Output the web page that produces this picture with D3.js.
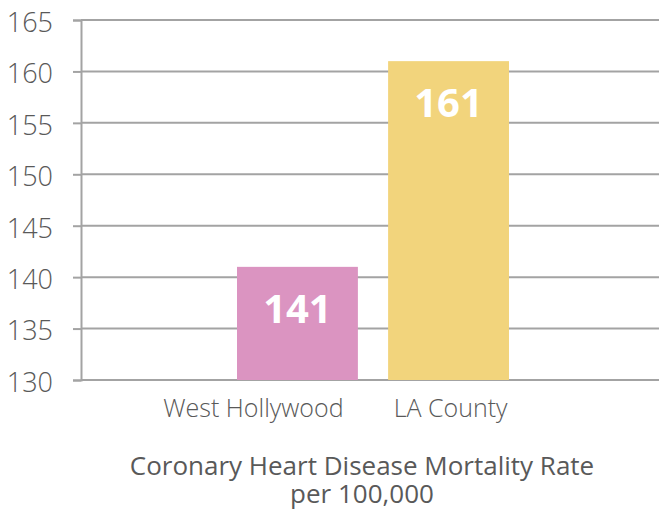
<!DOCTYPE html>
<html>

<head>
  <title>Coronary Heart Disease Mortality Rate</title>
  <script src="https://cdn.jsdelivr.net/npm/d3@7"></script>
  <style>
    body { margin: 0; background: #fff; }
    text { font-family: "Open Sans", "Noto Sans", sans-serif; }
  </style>
</head>

<body>
  <svg width="659" height="512" id="mainsvg"></svg>
  <script>
    // data
    const categories = ['West Hollywood', 'LA County'];
    const rates = [141, 161];
    const barColors = ['#db94c1', '#f2d47c'];
    const yTicks = [130, 135, 140, 145, 150, 155, 160, 165];
    const titleLines = ['Coronary Heart Disease Mortality Rate', 'per 100,000'];

    const svg = d3.select('#mainsvg');
    const width = +svg.attr('width');
    const axisX = 81;
    const plotTop = 20, plotBottom = 380;
    const gridColor = '#a3a3a3';
    const textColor = '#595959';

    const yScale = d3.scaleLinear().domain([130, 165]).range([plotBottom, plotTop]);
    const xScale = d3.scaleBand().domain(categories).range([237, 509]).paddingInner(0.2);

    // gridlines
    svg.append('g').selectAll('line')
      .data(yTicks)
      .enter().append('line')
      .attr('x1', axisX).attr('x2', width)
      .attr('y1', d => yScale(d)).attr('y2', d => yScale(d))
      .attr('stroke', gridColor).attr('stroke-width', 2);

    // y axis
    const yAxis = d3.axisLeft(yScale).tickValues(yTicks).tickSize(8).tickPadding(20);
    const yAxisGroup = svg.append('g')
      .attr('transform', `translate(${axisX}, 0)`)
      .call(yAxis);
    yAxisGroup.select('.domain').attr('stroke', gridColor).attr('stroke-width', 2);
    yAxisGroup.selectAll('.tick line').attr('stroke', gridColor).attr('stroke-width', 2);
    yAxisGroup.selectAll('.tick text')
      .attr('font-size', 27).attr('font-weight', 300)
      .attr('fill', textColor).attr('dy', '0.42em')
      .style('font-family', '"Open Sans", sans-serif');

    const data = categories.map((c, i) => ({ cat: c, value: rates[i], color: barColors[i] }));

    // bars
    svg.append('g').selectAll('rect')
      .data(data)
      .enter().append('rect')
      .attr('x', d => xScale(d.cat))
      .attr('y', d => yScale(d.value))
      .attr('width', xScale.bandwidth())
      .attr('height', d => yScale(130) - yScale(d.value))
      .attr('fill', d => d.color);

    // value labels
    svg.append('g').selectAll('text')
      .data(data)
      .enter().append('text')
      .attr('x', d => xScale(d.cat) + xScale.bandwidth() / 2)
      .attr('y', d => yScale(d.value) + 56)
      .attr('text-anchor', 'middle')
      .attr('font-size', 40).attr('font-weight', 700)
      .attr('fill', '#fff')
      .text(d => d.value);

    // category labels (the first one sits left of its bar in the original)
    const labelShift = { 'West Hollywood': -44, 'LA County': 2 };
    svg.append('g').selectAll('text')
      .data(categories)
      .enter().append('text')
      .attr('x', d => xScale(d) + xScale.bandwidth() / 2 + labelShift[d])
      .attr('y', 417)
      .attr('text-anchor', 'middle')
      .attr('font-size', 25).attr('font-weight', 300)
      .attr('fill', textColor)
      .text(d => d);

    // axis title
    svg.append('g').selectAll('text')
      .data(titleLines)
      .enter().append('text')
      .attr('x', 362)
      .attr('y', (d, i) => 475 + i * 28)
      .attr('text-anchor', 'middle')
      .attr('font-size', 26)
      .attr('fill', textColor)
      .text(d => d);
  </script>
</body>

</html>
